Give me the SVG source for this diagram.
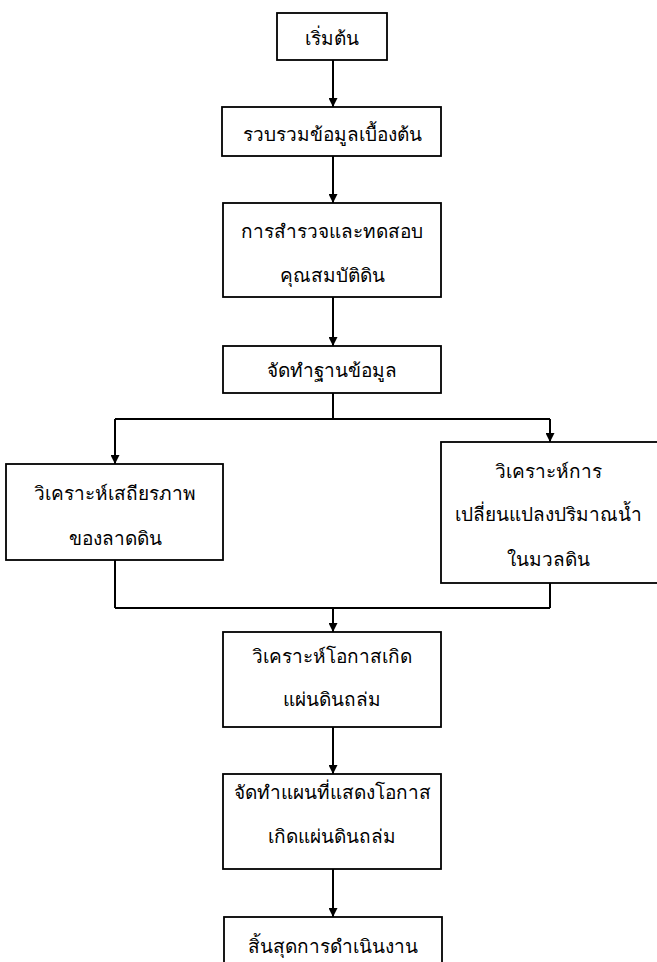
<svg xmlns="http://www.w3.org/2000/svg" width="657" height="962" viewBox="0 0 657 962">
<style>
.box{fill:#fff;stroke:#000;stroke-width:1.8}
.t{font-family:"Liberation Serif","DejaVu Serif",serif;font-size:19px;font-weight:normal;fill:#000;text-anchor:middle}
.c{fill:none;stroke:#000;stroke-width:2}
</style>
<defs>
<marker id="ah" viewBox="0 0 10 10" refX="10" refY="5" markerWidth="9" markerHeight="9" markerUnits="userSpaceOnUse" orient="auto">
<path d="M0,0 L10,5 L0,10 Z" fill="#000"/>
</marker>
</defs>
<g id="connectors">
<path class="c" d="M333,60 V107" marker-end="url(#ah)"/>
<path class="c" d="M333,156 V203" marker-end="url(#ah)"/>
<path class="c" d="M333,297 V346" marker-end="url(#ah)"/>
<path class="c" d="M333,393 V419"/>
<path class="c" d="M115,419 H550"/>
<path class="c" d="M115,419 V464" marker-end="url(#ah)"/>
<path class="c" d="M550,419 V442" marker-end="url(#ah)"/>
<path class="c" d="M115,560 V608"/>
<path class="c" d="M550,583 V608"/>
<path class="c" d="M115,608 H550"/>
<path class="c" d="M333,608 V632" marker-end="url(#ah)"/>
<path class="c" d="M333,727 V774" marker-end="url(#ah)"/>
<path class="c" d="M333,869 V917" marker-end="url(#ah)"/>
</g>
<g id="start"><rect class="box" x="277" y="13" width="110" height="47"/><text class="t" x="332" y="45">เริ่มต้น</text></g>
<g id="collect"><rect class="box" x="222" y="107" width="219" height="49"/><text class="t" x="332" y="141">รวบรวมข้อมูลเบื้องต้น</text></g>
<g id="survey"><rect class="box" x="223" y="203" width="218" height="94"/><text class="t" x="332" y="238">การสำรวจและทดสอบ</text><text class="t" x="332" y="282">คุณสมบัติดิน</text></g>
<g id="database"><rect class="box" x="223" y="346" width="218" height="47"/><text class="t" x="332" y="377">จัดทำฐานข้อมูล</text></g>
<g id="slope"><rect class="box" x="6" y="464" width="217" height="96"/><text class="t" x="115" y="500">วิเคราะห์เสถียรภาพ</text><text class="t" x="115" y="545">ของลาดดิน</text></g>
<g id="water"><rect class="box" x="441" y="442" width="220" height="141"/><text class="t" x="548" y="478">วิเคราะห์การ</text><text class="t" x="548" y="521">เปลี่ยนแปลงปริมาณน้ำ</text><text class="t" x="548" y="566">ในมวลดิน</text></g>
<g id="chance"><rect class="box" x="223" y="632" width="218" height="95"/><text class="t" x="332" y="663">วิเคราะห์โอกาสเกิด</text><text class="t" x="332" y="706">แผ่นดินถล่ม</text></g>
<g id="map"><rect class="box" x="223" y="774" width="218" height="95"/><text class="t" x="332" y="799">จัดทำแผนที่แสดงโอกาส</text><text class="t" x="332" y="843">เกิดแผ่นดินถล่ม</text></g>
<g id="end"><rect class="box" x="224" y="917" width="218" height="60"/><text class="t" x="333" y="953">สิ้นสุดการดำเนินงาน</text></g>
</svg>
